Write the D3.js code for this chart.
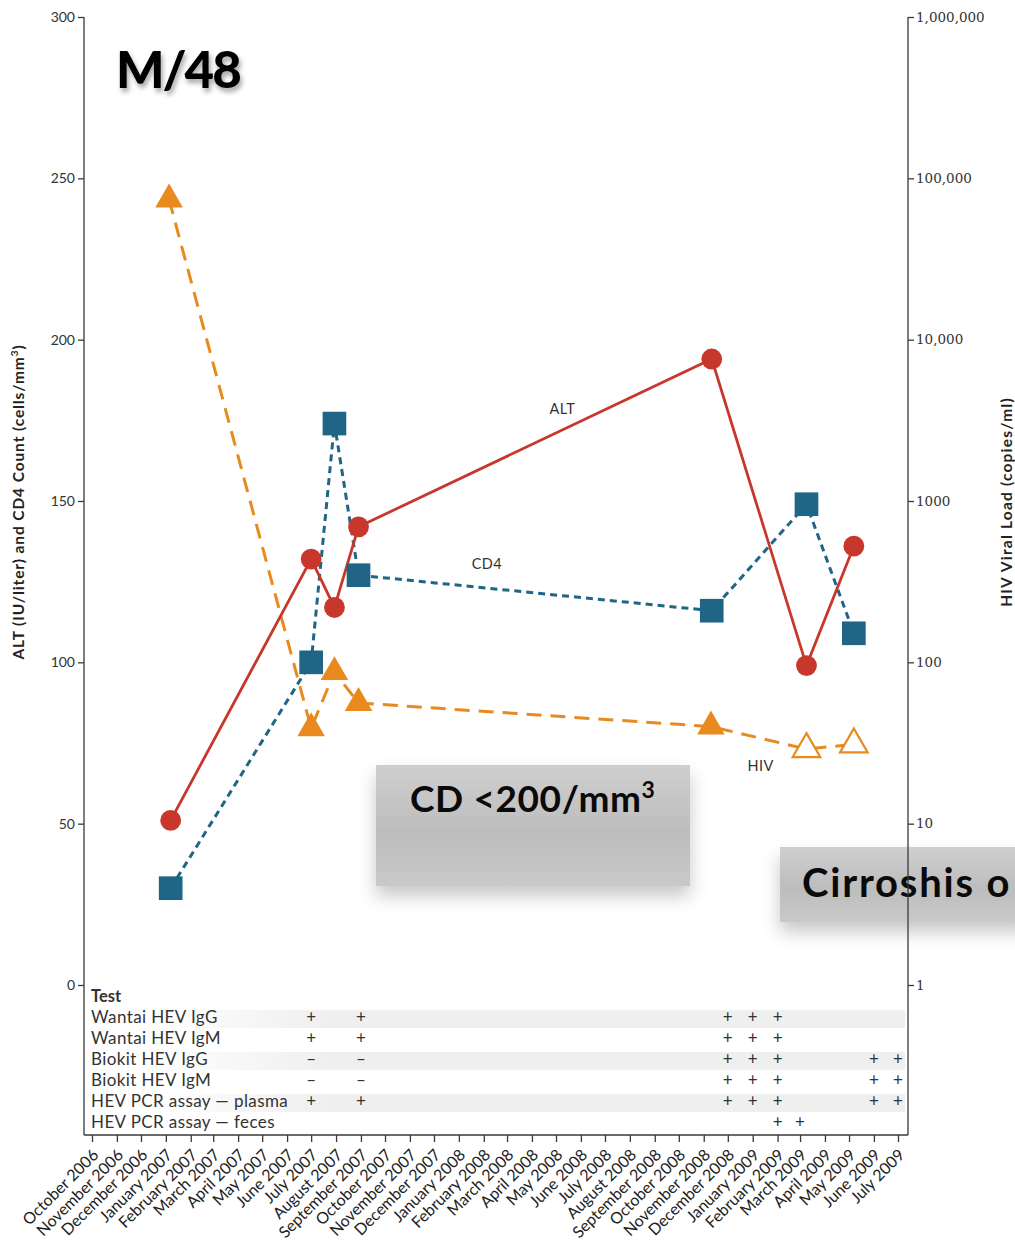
<!DOCTYPE html>
<html>
<head>
<meta charset="utf-8">
<script src="https://cdn.jsdelivr.net/npm/d3@7"></script>
<style>
  html, body { margin: 0; padding: 0; background: #fff; }
  svg { display: block; }
</style>
</head>
<body>
<svg id="chart" width="1015" height="1242"></svg>
<script>
// ---- data ----
const parse = d3.timeParse("%Y-%m-%d");

const altDates = ["2007-01-07", "2007-07-01", "2007-07-30", "2007-08-29", "2008-11-11", "2009-03-09", "2009-05-07"];
const altValues = [51, 132, 117, 142, 194, 99, 136];

const cd4Dates = ["2007-01-07", "2007-07-01", "2007-07-30", "2007-08-29", "2008-11-11", "2009-03-09", "2009-05-07"];
const cd4Values = [30, 100, 174, 127, 116, 149, 109];

const hivDates = ["2007-01-05", "2007-07-01", "2007-07-30", "2007-08-29", "2008-11-10", "2009-03-09", "2009-05-07"];
const hivValues = [74000, 39, 87, 56, 40, 29, 31];
const hivOpen = [false, false, false, false, false, true, true]; // open marker = below detection

const leftTicks = [0, 50, 100, 150, 200, 250, 300];
const rightTicks = [1, 10, 100, 1000, 10000, 100000, 1000000];
const rightTickLabels = ["1", "10", "100", "1000", "10,000", "100,000", "1,000,000"];

const monthStart = "2006-10-01";
const monthEnd = "2009-07-01";

const testNames = ["Wantai HEV IgG", "Wantai HEV IgM", "Biokit HEV IgG", "Biokit HEV IgM",
                   "HEV PCR assay \u2014 plasma", "HEV PCR assay \u2014 feces"];
// results: [row index, month, mark]
const testResults = [
  [0, "2007-07-01", "+"], [0, "2007-09-01", "+"], [0, "2008-12-01", "+"], [0, "2009-01-01", "+"], [0, "2009-02-01", "+"],
  [1, "2007-07-01", "+"], [1, "2007-09-01", "+"], [1, "2008-12-01", "+"], [1, "2009-01-01", "+"], [1, "2009-02-01", "+"],
  [2, "2007-07-01", "\u2013"], [2, "2007-09-01", "\u2013"], [2, "2008-12-01", "+"], [2, "2009-01-01", "+"], [2, "2009-02-01", "+"], [2, "2009-06-01", "+"], [2, "2009-07-01", "+"],
  [3, "2007-07-01", "\u2013"], [3, "2007-09-01", "\u2013"], [3, "2008-12-01", "+"], [3, "2009-01-01", "+"], [3, "2009-02-01", "+"], [3, "2009-06-01", "+"], [3, "2009-07-01", "+"],
  [4, "2007-07-01", "+"], [4, "2007-09-01", "+"], [4, "2008-12-01", "+"], [4, "2009-01-01", "+"], [4, "2009-02-01", "+"], [4, "2009-06-01", "+"], [4, "2009-07-01", "+"],
  [5, "2009-02-01", "+"], [5, "2009-03-01", "+"]
];

// ---- colours ----
const ALT_COLOR = "#c8372c";
const CD4_COLOR = "#1f6585";
const HIV_COLOR = "#e88a1e";
const AXIS_COLOR = "#3a3a3a";

// ---- layout ----
const svg = d3.select("#chart");
const frame = { left: 84, right: 908, top: 17, zero: 985, bottom: 1135 };

const x = d3.scaleTime()
  .domain([parse(monthStart), parse(monthEnd)])
  .range([92, 898]);
const yLeft = d3.scaleLinear().domain([0, 300]).range([frame.zero, frame.top]);
const yRight = d3.scaleLog().domain([1, 1000000]).range([frame.zero, frame.top]);

// ---- defs ----
const defs = svg.append("defs");
const ts = defs.append("filter").attr("id", "titleShadow").attr("x", "-20%").attr("y", "-20%").attr("width", "140%").attr("height", "160%");
ts.append("feDropShadow").attr("dx", 2).attr("dy", 4).attr("stdDeviation", 2.5).attr("flood-color", "#000").attr("flood-opacity", 0.35);

const bs = defs.append("filter").attr("id", "boxShadow").attr("x", "-20%").attr("y", "-30%").attr("width", "140%").attr("height", "180%");
bs.append("feDropShadow").attr("dx", 0).attr("dy", 10).attr("stdDeviation", 9).attr("flood-color", "#000").attr("flood-opacity", 0.22);

const bg = defs.append("linearGradient").attr("id", "boxFill").attr("x1", 0).attr("y1", 0).attr("x2", 0).attr("y2", 1);
bg.append("stop").attr("offset", "0%").attr("stop-color", "#cfcfcf");
bg.append("stop").attr("offset", "55%").attr("stop-color", "#bdbdbd");
bg.append("stop").attr("offset", "100%").attr("stop-color", "#c9c9c9");

const sg = defs.append("linearGradient").attr("id", "stripeFill").attr("gradientUnits", "userSpaceOnUse")
  .attr("x1", 150).attr("y1", 0).attr("x2", 330).attr("y2", 0);
sg.append("stop").attr("offset", "0%").attr("stop-color", "#efefef").attr("stop-opacity", 0);
sg.append("stop").attr("offset", "100%").attr("stop-color", "#efefef").attr("stop-opacity", 1);

// ---- table stripes ----
const rowY = i => 1019 + i * 21;
svg.append("g").selectAll("rect")
  .data(testNames.map((d, i) => i).filter(i => i % 2 === 0))
  .join("rect")
  .attr("x", 150).attr("width", 755)
  .attr("y", i => rowY(i) - 9).attr("height", 18)
  .attr("fill", "url(#stripeFill)");

// ---- annotation boxes ----
const boxes = svg.append("g");
boxes.append("rect").attr("x", 376).attr("y", 765).attr("width", 314).attr("height", 121)
  .attr("fill", "url(#boxFill)").attr("filter", "url(#boxShadow)");
const cdText = boxes.append("text").attr("x", 410).attr("y", 812)
  .attr("font-family", "Lato, sans-serif").attr("font-weight", 700).attr("font-size", 37)
  .attr("letter-spacing", 0.6).attr("fill", "#0a0a0a");
cdText.append("tspan").text("CD <200/mm");
cdText.append("tspan").attr("font-size", 23).attr("dy", -14).text("3");

boxes.append("rect").attr("x", 780).attr("y", 847).attr("width", 260).attr("height", 75)
  .attr("fill", "url(#boxFill)").attr("filter", "url(#boxShadow)");
boxes.append("text").attr("x", 802).attr("y", 897)
  .attr("font-family", "Lato, sans-serif").attr("font-weight", 700).attr("font-size", 40)
  .attr("letter-spacing", 1.8).attr("fill", "#0a0a0a")
  .text("Cirroshis o");

// ---- frame ----
const fr = svg.append("g").attr("stroke", AXIS_COLOR).attr("stroke-width", 1.3).attr("fill", "none");
fr.append("line").attr("x1", frame.left).attr("x2", frame.left).attr("y1", frame.top).attr("y2", frame.bottom);
fr.append("line").attr("x1", frame.right).attr("x2", frame.right).attr("y1", frame.top).attr("y2", frame.bottom);
fr.append("line").attr("x1", frame.left).attr("x2", frame.right).attr("y1", frame.bottom).attr("y2", frame.bottom);

// ---- axes ----
const leftAxis = svg.append("g").attr("transform", `translate(${frame.left},0)`)
  .call(d3.axisLeft(yLeft).tickValues(leftTicks).tickSize(6).tickPadding(3));
leftAxis.select(".domain").remove();
leftAxis.selectAll("line").attr("stroke", AXIS_COLOR).attr("stroke-width", 1.3);
leftAxis.selectAll("text").attr("font-family", "Lato, sans-serif").attr("font-size", 14).attr("fill", "#333");

const rightAxis = svg.append("g").attr("transform", `translate(${frame.right},0)`)
  .call(d3.axisRight(yRight).tickValues(rightTicks).tickSize(6).tickPadding(2)
    .tickFormat((d, i) => rightTickLabels[i]));
rightAxis.select(".domain").remove();
rightAxis.selectAll("line").attr("stroke", AXIS_COLOR).attr("stroke-width", 1.3);
rightAxis.selectAll("text").attr("font-family", "'DejaVu Serif', serif").attr("font-size", 13.5).attr("fill", "#333");

const bottomAxis = svg.append("g").attr("transform", `translate(0,${frame.bottom})`)
  .call(d3.axisBottom(x).ticks(d3.timeMonth.every(1)).tickSize(7).tickFormat(d3.timeFormat("%B %Y")));
bottomAxis.select(".domain").remove();
bottomAxis.selectAll("line").attr("stroke", AXIS_COLOR).attr("stroke-width", 1.3);
bottomAxis.selectAll("text")
  .attr("font-family", "Lato, sans-serif").attr("font-size", 16).attr("fill", "#222")
  .attr("text-anchor", "end")
  .attr("y", 0).attr("dy", 0)
  .attr("transform", "translate(7,21) rotate(-45)");

// axis titles
svg.append("text")
  .attr("transform", "translate(24,502) rotate(-90)")
  .attr("text-anchor", "middle")
  .attr("font-family", "Lato, sans-serif").attr("font-weight", 700).attr("font-size", 15.5)
  .attr("letter-spacing", 0.9).attr("fill", "#222")
  .call(t => {
    t.append("tspan").text("ALT (IU/liter) and CD4 Count (cells/mm");
    t.append("tspan").attr("font-size", 10).attr("dy", -6).text("3");
    t.append("tspan").attr("dy", 6).text(")");
  });
svg.append("text")
  .attr("transform", "translate(1012,502) rotate(-90)")
  .attr("text-anchor", "middle")
  .attr("font-family", "Lato, sans-serif").attr("font-weight", 700).attr("font-size", 15.5)
  .attr("letter-spacing", 1.2).attr("fill", "#222")
  .text("HIV Viral Load (copies/ml)");

// ---- series ----
const altData = altDates.map((d, i) => ({ date: parse(d), v: altValues[i] }));
const cd4Data = cd4Dates.map((d, i) => ({ date: parse(d), v: cd4Values[i] }));
const hivData = hivDates.map((d, i) => ({ date: parse(d), v: hivValues[i], open: hivOpen[i] }));

const lineLeft = d3.line().x(d => x(d.date)).y(d => yLeft(d.v));
const lineRight = d3.line().x(d => x(d.date)).y(d => yRight(d.v));

svg.append("path").datum(hivData).attr("d", lineRight)
  .attr("fill", "none").attr("stroke", HIV_COLOR).attr("stroke-width", 3).attr("stroke-dasharray", "15,9");
svg.append("path").datum(cd4Data).attr("d", lineLeft)
  .attr("fill", "none").attr("stroke", CD4_COLOR).attr("stroke-width", 3).attr("stroke-dasharray", "7,5");
svg.append("path").datum(altData).attr("d", lineLeft)
  .attr("fill", "none").attr("stroke", ALT_COLOR).attr("stroke-width", 2.8);

svg.append("g").selectAll("path").data(hivData).join("path")
  .attr("transform", d => `translate(${x(d.date)},${yRight(d.v)})`)
  .attr("d", d3.symbol(d3.symbolTriangle, 330))
  .attr("fill", d => d.open ? "#fff" : HIV_COLOR)
  .attr("stroke", HIV_COLOR).attr("stroke-width", d => d.open ? 2.2 : 0);

svg.append("g").selectAll("path").data(cd4Data).join("path")
  .attr("transform", d => `translate(${x(d.date)},${yLeft(d.v)})`)
  .attr("d", d3.symbol(d3.symbolSquare, 560))
  .attr("fill", CD4_COLOR);

svg.append("g").selectAll("path").data(altData).join("path")
  .attr("transform", d => `translate(${x(d.date)},${yLeft(d.v)})`)
  .attr("d", d3.symbol(d3.symbolCircle, 340))
  .attr("fill", ALT_COLOR);

// series labels
const seriesLabels = [
  { text: "ALT", date: "2008-05-09", v: 178, scale: "left" },
  { text: "CD4", date: "2008-02-05", v: 130, scale: "left" },
  { text: "HIV", date: "2009-01-11", v: 22.5, scale: "right" }
];
svg.append("g").selectAll("text").data(seriesLabels).join("text")
  .attr("x", d => x(parse(d.date)))
  .attr("y", d => d.scale === "left" ? yLeft(d.v) : yRight(d.v))
  .attr("text-anchor", "middle").attr("dominant-baseline", "middle")
  .attr("font-family", "Lato, sans-serif").attr("font-size", 14.5).attr("letter-spacing", 0.5).attr("fill", "#333")
  .text(d => d.text);

// ---- test table ----
const table = svg.append("g").attr("font-family", "Lato, sans-serif").attr("fill", "#333");
table.append("text").attr("x", 91).attr("y", 998).attr("dominant-baseline", "middle")
  .attr("font-weight", 700).attr("font-size", 16.5).text("Test");
table.selectAll("text.row").data(testNames).join("text").attr("class", "row")
  .attr("x", 91).attr("y", (d, i) => rowY(i)).attr("dominant-baseline", "middle")
  .attr("font-size", 17).attr("letter-spacing", 0.4).text(d => d);
table.selectAll("text.mark").data(testResults).join("text").attr("class", "mark")
  .attr("x", d => x(parse(d[1]))).attr("y", d => rowY(d[0]))
  .attr("text-anchor", "middle").attr("dominant-baseline", "middle")
  .attr("font-size", 17).text(d => d[2]);

// ---- title ----
svg.append("text").attr("x", 116).attr("y", 88)
  .attr("font-family", "Lato, sans-serif").attr("font-weight", 900).attr("font-size", 51)
  .attr("letter-spacing", -2).attr("fill", "#000")
  .attr("filter", "url(#titleShadow)")
  .text("M/48");
</script>
</body>
</html>
